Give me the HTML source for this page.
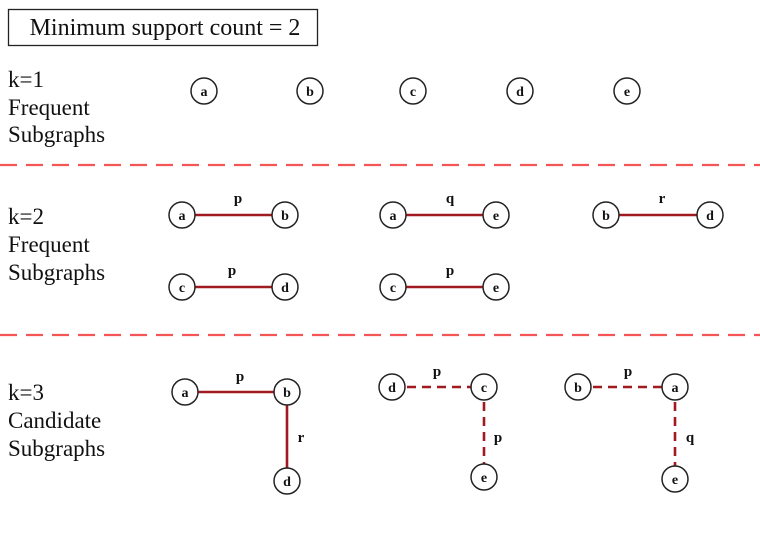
<!DOCTYPE html>
<html><head><meta charset="utf-8"><style>
html,body{margin:0;padding:0;background:#fff;}
svg{display:block;}
text{font-family:"Liberation Serif",serif;}
.lab{font-size:23px;fill:#111;}
.n circle{fill:#fff;stroke:#222;stroke-width:1.5;}
.n text{font-size:14px;font-weight:bold;text-anchor:middle;fill:#111;}
.e{stroke:#a01a20;stroke-width:2.6;}
.d{stroke:#a01a20;stroke-width:2.6;stroke-dasharray:9,6;}
.el{font-size:15px;font-weight:bold;fill:#111;text-anchor:middle;}
</style></head><body>
<svg width="760" height="538" viewBox="0 0 760 538">
<rect x="8.5" y="9.5" width="309" height="36" fill="#fff" stroke="#222" stroke-width="1.3"/>
<text x="165" y="35" font-size="24" text-anchor="middle" fill="#111">Minimum support count = 2</text>

<text class="lab" x="8" y="87">k=1</text>
<text class="lab" x="8" y="115">Frequent</text>
<text class="lab" x="8" y="142">Subgraphs</text>
<text class="lab" x="8" y="224">k=2</text>
<text class="lab" x="8" y="252">Frequent</text>
<text class="lab" x="8" y="280">Subgraphs</text>
<text class="lab" x="8" y="400">k=3</text>
<text class="lab" x="8" y="428">Candidate</text>
<text class="lab" x="8" y="456">Subgraphs</text>

<line x1="0" y1="165" x2="760" y2="165" stroke="#f45555" stroke-width="2.2" stroke-dasharray="17,9"/>
<line x1="0" y1="335" x2="760" y2="335" stroke="#f45555" stroke-width="2.2" stroke-dasharray="17,9"/>

<line class="e" x1="182" y1="215" x2="285" y2="215"/>
<line class="e" x1="393" y1="215" x2="496" y2="215"/>
<line class="e" x1="606" y1="215" x2="710" y2="215"/>
<line class="e" x1="182" y1="287" x2="285" y2="287"/>
<line class="e" x1="393" y1="287" x2="496" y2="287"/>
<line class="e" x1="185" y1="392" x2="287" y2="392"/>
<line class="e" x1="287" y1="392" x2="287" y2="481"/>
<line class="d" x1="392" y1="387" x2="484" y2="387"/>
<line class="d" x1="484" y1="387" x2="484" y2="477"/>
<line class="d" x1="578" y1="387" x2="675" y2="387"/>
<line class="d" x1="675" y1="387" x2="675" y2="479"/>

<text class="el" x="238" y="203">p</text>
<text class="el" x="450" y="203">q</text>
<text class="el" x="662" y="203">r</text>
<text class="el" x="232" y="275">p</text>
<text class="el" x="450" y="275">p</text>
<text class="el" x="240" y="381">p</text>
<text class="el" x="301" y="442">r</text>
<text class="el" x="437" y="376">p</text>
<text class="el" x="498" y="442">p</text>
<text class="el" x="628" y="376">p</text>
<text class="el" x="690" y="442">q</text>

<g class="n">
<circle cx="204" cy="91" r="13"/><text x="204" y="96">a</text>
<circle cx="310" cy="91" r="13"/><text x="310" y="96">b</text>
<circle cx="413" cy="91" r="13"/><text x="413" y="96">c</text>
<circle cx="520" cy="91" r="13"/><text x="520" y="96">d</text>
<circle cx="627" cy="91" r="13"/><text x="627" y="96">e</text>

<circle cx="182" cy="215" r="13"/><text x="182" y="220">a</text>
<circle cx="285" cy="215" r="13"/><text x="285" y="220">b</text>
<circle cx="393" cy="215" r="13"/><text x="393" y="220">a</text>
<circle cx="496" cy="215" r="13"/><text x="496" y="220">e</text>
<circle cx="606" cy="215" r="13"/><text x="606" y="220">b</text>
<circle cx="710" cy="215" r="13"/><text x="710" y="220">d</text>
<circle cx="182" cy="287" r="13"/><text x="182" y="292">c</text>
<circle cx="285" cy="287" r="13"/><text x="285" y="292">d</text>
<circle cx="393" cy="287" r="13"/><text x="393" y="292">c</text>
<circle cx="496" cy="287" r="13"/><text x="496" y="292">e</text>

<circle cx="185" cy="392" r="13"/><text x="185" y="397">a</text>
<circle cx="287" cy="392" r="13"/><text x="287" y="397">b</text>
<circle cx="287" cy="481" r="13"/><text x="287" y="486">d</text>
<circle cx="392" cy="387" r="13"/><text x="392" y="392">d</text>
<circle cx="484" cy="387" r="13"/><text x="484" y="392">c</text>
<circle cx="484" cy="477" r="13"/><text x="484" y="482">e</text>
<circle cx="578" cy="387" r="13"/><text x="578" y="392">b</text>
<circle cx="675" cy="387" r="13"/><text x="675" y="392">a</text>
<circle cx="675" cy="479" r="13"/><text x="675" y="484">e</text>
</g>
</svg>
</body></html>
